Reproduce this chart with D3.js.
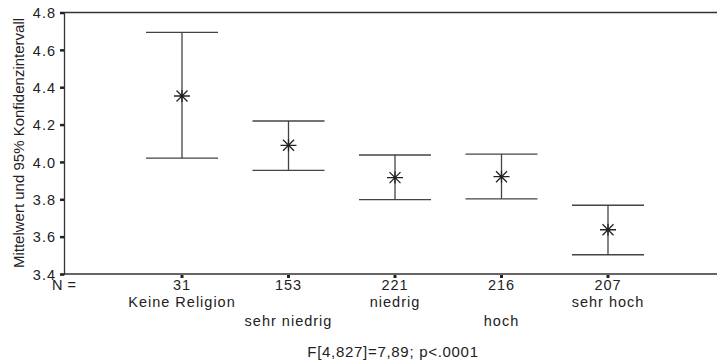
<!DOCTYPE html>
<html>
<head>
<meta charset="utf-8">
<script src="https://cdn.jsdelivr.net/npm/d3@7"></script>
<style>
  body { margin: 0; background: #fff; }
  text { font-family: "Liberation Sans", Arial, sans-serif; fill: #222; }
</style>
</head>
<body>
<svg id="chart" width="717" height="361"></svg>
<script>
// Gruppen, Fallzahlen und Mittelwerte mit 95%-KI
const categories = ["Keine Religion", "sehr niedrig", "niedrig", "hoch", "sehr hoch"];
const counts = [31, 153, 221, 216, 207];
const means = [4.353, 4.089, 3.916, 3.921, 3.637];
const lower = [4.020, 3.955, 3.798, 3.802, 3.503];
const upper = [4.694, 4.219, 4.037, 4.042, 3.768];
const yTicks = [3.4, 3.6, 3.8, 4.0, 4.2, 4.4, 4.6, 4.8];

const svg = d3.select("#chart");

const x = d3.scalePoint()
    .domain(d3.range(categories.length))
    .range([182, 608]);

const y = d3.scaleLinear()
    .domain([3.4, 4.8])
    .range([274, 12.5]);

// Rahmen: oben und unten durchgehend, links die Achse
svg.append("line")
    .attr("x1", 64).attr("x2", 717)
    .attr("y1", y(4.8)).attr("y2", y(4.8))
    .attr("stroke", "#333").attr("stroke-width", 1.3);

svg.append("line")
    .attr("x1", 64).attr("x2", 717)
    .attr("y1", y(3.4)).attr("y2", y(3.4))
    .attr("stroke", "#333").attr("stroke-width", 1.3);

// y-Achse
const yAxis = svg.append("g")
    .attr("transform", "translate(64,0)")
    .call(d3.axisLeft(y).tickValues(yTicks).tickFormat(d3.format(".1f")).tickSize(4).tickPadding(4));

yAxis.select(".domain").attr("stroke", "#333").attr("stroke-width", 1.3);
yAxis.selectAll(".tick line").attr("stroke", "#222").attr("stroke-width", 2.5);
yAxis.selectAll(".tick text")
    .attr("font-size", "14.5px")
    .attr("font-family", "'Liberation Sans', Arial, sans-serif")
    .attr("letter-spacing", "1px")
    .attr("dy", "0.36em")
    .attr("fill", "#222");

// kleine Markierungen unter der x-Achse
svg.selectAll(".xtick")
    .data(counts)
    .join("rect")
    .attr("class", "xtick")
    .attr("x", (d, i) => x(i) - 1.5)
    .attr("y", y(3.4) + 1)
    .attr("width", 3)
    .attr("height", 3)
    .attr("fill", "#222");

// N =
svg.append("text")
    .attr("x", 52)
    .attr("y", 290)
    .attr("font-size", "14.5px")
    .attr("letter-spacing", "0.5px")
    .text("N =");

svg.selectAll(".count")
    .data(counts)
    .join("text")
    .attr("class", "count")
    .attr("x", (d, i) => x(i))
    .attr("y", 290)
    .attr("text-anchor", "middle")
    .attr("font-size", "14.5px")
    .attr("letter-spacing", "1px")
    .text(d => d);

svg.selectAll(".cat")
    .data(categories)
    .join("text")
    .attr("class", "cat")
    .attr("x", (d, i) => x(i))
    .attr("y", (d, i) => i % 2 === 0 ? 306.5 : 325.5)
    .attr("text-anchor", "middle")
    .attr("font-size", "14.5px")
    .attr("letter-spacing", "1px")
    .text(d => d);

// Fehlerbalken
const bars = svg.selectAll(".bar")
    .data(categories)
    .join("g")
    .attr("class", "bar")
    .attr("stroke", "#444")
    .attr("stroke-width", 1.3);

bars.append("line")
    .attr("x1", (d, i) => x(i)).attr("x2", (d, i) => x(i))
    .attr("y1", (d, i) => y(upper[i])).attr("y2", (d, i) => y(lower[i]));

bars.append("line")
    .attr("x1", (d, i) => x(i) - 36).attr("x2", (d, i) => x(i) + 36)
    .attr("y1", (d, i) => y(upper[i])).attr("y2", (d, i) => y(upper[i]));

bars.append("line")
    .attr("x1", (d, i) => x(i) - 36).attr("x2", (d, i) => x(i) + 36)
    .attr("y1", (d, i) => y(lower[i])).attr("y2", (d, i) => y(lower[i]));

// Sternchen fuer den Mittelwert
const star = "M-8,0L8,0M-5.5,-5.5L5.5,5.5M-5.5,5.5L5.5,-5.5M0,-6L0,6";
svg.selectAll(".mean")
    .data(means)
    .join("path")
    .attr("class", "mean")
    .attr("transform", (d, i) => `translate(${x(i)},${y(d)})`)
    .attr("d", star)
    .attr("fill", "none")
    .attr("stroke", "#222")
    .attr("stroke-width", 1.3);

// y-Titel
svg.append("text")
    .attr("transform", "translate(24,143) rotate(-90)")
    .attr("text-anchor", "middle")
    .attr("font-size", "15px")
    .text("Mittelwert und 95% Konfidenzintervall");

// Fusszeile
svg.append("text")
    .attr("x", 393)
    .attr("y", 357)
    .attr("text-anchor", "middle")
    .attr("font-size", "15px")
    .attr("letter-spacing", "0.7px")
    .text("F[4,827]=7,89; p<.0001");
</script>
</body>
</html>
